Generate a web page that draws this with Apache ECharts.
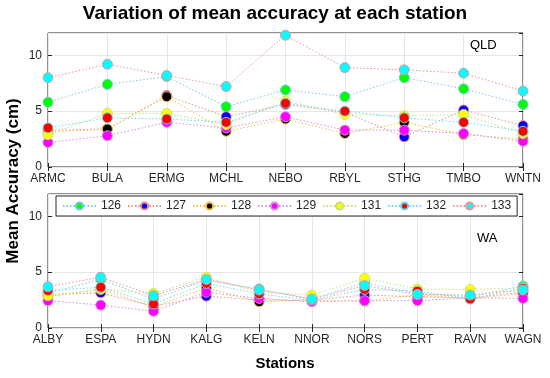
<!DOCTYPE html>
<html><head><meta charset="utf-8">
<script src="https://cdn.jsdelivr.net/npm/echarts@6/dist/echarts.min.js"></script>
<style>html,body{margin:0;padding:0;background:#fff}#c{width:550px;height:378px}</style>
</head><body><div id="c"></div>
<script>
const qldStations = ['ARMC','BULA','ERMG','MCHL','NEBO','RBYL','STHG','TMBO','WNTN'];
const waStations = ['ALBY','ESPA','HYDN','KALG','KELN','NNOR','NORS','PERT','RAVN','WAGN'];
const seriesNames = ['126','127','128','129','131','132','133'];
const markerColors = ['#00ff00','#0000ff','#000000','#ff00ff','#ffff00','#ff0000','#00ffff'];
const lineColors = ['#7cc6ea','#f08c8c','#f2c046','#d08ee0','#c9e07c','#62dff0','#f09494'];

const qld126 = [5.8, 7.4, 8.1, 5.4, 6.9, 6.3, 8.0, 7.0, 5.6];
const qld127 = [3.3, 3.4, 6.4, 4.5, 5.6, 4.9, 2.7, 5.1, 3.7];
const qld128 = [3.1, 3.4, 6.3, 3.2, 4.3, 3.0, 4.0, 2.9, 2.5];
const qld129 = [2.2, 2.8, 4.0, 3.5, 4.5, 3.3, 3.3, 3.0, 2.3];
const qld131 = [2.9, 4.8, 4.8, 3.8, 5.9, 4.7, 4.6, 4.7, 3.0];
const qld132 = [3.5, 4.4, 4.3, 4.0, 5.7, 5.0, 4.4, 4.0, 3.2];
const qld133 = [8.0, 9.2, 8.2, 7.2, 11.8, 8.9, 8.7, 8.4, 6.8];

const wa126 = [3.1, 4.35, 2.6, 4.3, 3.5, 2.6, 4.05, 3.1, 2.8, 3.75];
const wa127 = [3.0, 3.15, 1.95, 2.85, 2.5, 2.5, 2.95, 2.8, 2.7, 3.2];
const wa128 = [2.8, 3.45, 1.9, 3.6, 2.35, 2.5, 2.4, 3.0, 2.6, 3.1];
const wa129 = [2.45, 2.05, 1.5, 3.2, 2.65, 2.35, 2.45, 2.45, 2.7, 2.65];
const wa131 = [2.9, 3.5, 3.1, 4.55, 3.2, 2.95, 4.45, 3.5, 3.45, 3.6];
const wa132 = [3.35, 3.65, 2.15, 4.0, 3.05, 2.5, 3.45, 3.3, 2.6, 3.55];
const wa133 = [3.7, 4.55, 2.9, 4.35, 3.4, 2.6, 3.8, 3.0, 2.95, 3.4];

const yTicks = [0, 5, 10];
const yMax = 12;

const qldData = [qld126, qld127, qld128, qld129, qld131, qld132, qld133];
const waData = [wa126, wa127, wa128, wa129, wa131, wa132, wa133];

const FONT = 'Liberation Sans';
const axisCol = '#262626';
const gridCol = '#e6e6e6';

function xAx(gi, cats, pos, labels) {
  return {
    type: 'category', gridIndex: gi, data: cats, boundaryGap: false, position: pos,
    axisLine: {show: false},
    axisTick: {show: true, inside: true, length: 4, alignWithLabel: true, lineStyle: {color: axisCol}},
    axisLabel: {show: labels, color: axisCol, fontFamily: FONT, fontSize: 12, margin: 6, interval: 0},
    splitLine: {show: labels, lineStyle: {color: gridCol, width: 1}}
  };
}
function yAx(gi, pos, labels) {
  return {
    type: 'value', gridIndex: gi, min: yTicks[0], max: yMax, interval: yTicks[1] - yTicks[0], position: pos,
    axisLine: {show: false},
    axisTick: {show: true, inside: true, length: 4, lineStyle: {color: axisCol}},
    axisLabel: {show: labels, color: axisCol, fontFamily: FONT, fontSize: 12, margin: 6, showMaxLabel: false},
    splitLine: {show: labels, lineStyle: {color: gridCol, width: 1}}
  };
}

const series = [];
seriesNames.forEach((n, i) => {
  [[0, qldData[i]], [1, waData[i]]].forEach(([g, d]) => {
    series.push({
      name: n, type: 'line', xAxisIndex: g * 2, yAxisIndex: g * 2, data: d,
      symbol: 'circle', symbolSize: 10, showSymbol: true,
      lineStyle: {color: lineColors[i], width: 1, type: [1.5, 2]},
      itemStyle: {color: markerColors[i], borderColor: lineColors[i], borderWidth: 1},
      emphasis: {disabled: true}, animation: false
    });
  });
});

const chart = echarts.init(document.getElementById('c'), null, {renderer: 'canvas'});
chart.setOption({
  animation: false,
  grid: [
    {left: 48, right: 27, top: 33, bottom: 211, show: true, borderColor: axisCol, borderWidth: 1, backgroundColor: 'transparent'},
    {left: 48, right: 27, top: 194, bottom: 50, show: true, borderColor: axisCol, borderWidth: 1, backgroundColor: 'transparent'}
  ],
  xAxis: [xAx(0, qldStations, 'bottom', true), xAx(0, qldStations, 'top', false),
          xAx(1, waStations, 'bottom', true), xAx(1, waStations, 'top', false)],
  yAxis: [yAx(0, 'left', true), yAx(0, 'right', false), yAx(1, 'left', true), yAx(1, 'right', false)],
  legend: {
    data: seriesNames, left: 56, top: 196, orient: 'horizontal',
    padding: [4, 6, 4, 6], itemGap: 6, itemWidth: 33, itemHeight: 9,
    borderColor: axisCol, borderWidth: 1, backgroundColor: '#fff',
    textStyle: {fontFamily: FONT, fontSize: 12, color: axisCol, padding: [0, 0, 0, 0]},
    selectedMode: false
  },
  graphic: [
    {type: 'text', left: 'center', top: 4, style: {text: 'Variation of mean accuracy at each station', font: 'bold 19px "Liberation Sans"', fill: '#000'}},
    {type: 'text', x: 5, y: 181, rotation: Math.PI / 2, style: {text: 'Mean Accuracy (cm)', font: 'bold 17px "Liberation Sans"', fill: '#000', textAlign: 'center', textVerticalAlign: 'top'}},
    {type: 'text', x: 285, y: 356, style: {text: 'Stations', font: 'bold 15px "Liberation Sans"', fill: '#000', textAlign: 'center'}},
    {type: 'text', x: 470, y: 39, style: {text: 'QLD', font: '13px "Liberation Sans"', fill: '#000'}},
    {type: 'text', x: 477, y: 232, style: {text: 'WA', font: '13px "Liberation Sans"', fill: '#000'}}
  ],
  series: series
});
</script></body></html>
